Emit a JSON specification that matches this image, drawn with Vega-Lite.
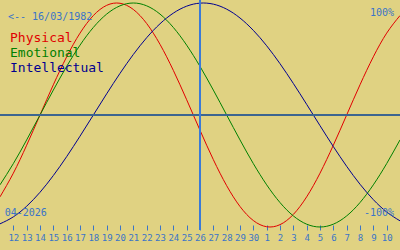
{
  "$schema": "https://vega.github.io/schema/vega-lite/v6.json",
  "width": 400,
  "height": 230,
  "autosize": "none",
  "padding": {"left": 0, "right": 0, "top": 0, "bottom": 20},
  "background": "#e0d282",
  "config": {
    "view": {"stroke": null, "fill": "#e0d282"},
    "axisX": {
      "orient": "bottom", "offset": -5, "title": null, "grid": false, "domain": false,
      "tickSize": 5, "tickColor": "#3a74c8", "tickWidth": 1,
      "labelColor": "#3a74c8", "labelFont": "DejaVu Sans Mono", "labelFontSize": 9,
      "labelPadding": 3, "labelOverlap": false, "labelFlush": false, "labelBound": false
    }
  },
  "datasets": {
    "bio": [
      {"day": 11, "series": "Physical", "value": -73.08}, {"day": 12, "series": "Physical", "value": -51.96}, {"day": 13, "series": "Physical", "value": -26.98}, {"day": 14, "series": "Physical", "value": 0}, {"day": 15, "series": "Physical", "value": 26.98}, {"day": 16, "series": "Physical", "value": 51.96}, {"day": 17, "series": "Physical", "value": 73.08}, {"day": 18, "series": "Physical", "value": 88.79}, {"day": 19, "series": "Physical", "value": 97.91}, {"day": 20, "series": "Physical", "value": 99.77}, {"day": 21, "series": "Physical", "value": 94.23}, {"day": 22, "series": "Physical", "value": 81.70}, {"day": 23, "series": "Physical", "value": 63.11}, {"day": 24, "series": "Physical", "value": 39.84}, {"day": 25, "series": "Physical", "value": 13.62}, {"day": 26, "series": "Physical", "value": -13.62}, {"day": 27, "series": "Physical", "value": -39.84}, {"day": 28, "series": "Physical", "value": -63.11}, {"day": 29, "series": "Physical", "value": -81.70}, {"day": 30, "series": "Physical", "value": -94.23}, {"day": 31, "series": "Physical", "value": -99.77}, {"day": 32, "series": "Physical", "value": -97.91}, {"day": 33, "series": "Physical", "value": -88.79}, {"day": 34, "series": "Physical", "value": -73.08}, {"day": 35, "series": "Physical", "value": -51.96}, {"day": 36, "series": "Physical", "value": -26.98}, {"day": 37, "series": "Physical", "value": 0}, {"day": 38, "series": "Physical", "value": 26.98}, {"day": 39, "series": "Physical", "value": 51.96}, {"day": 40, "series": "Physical", "value": 73.08}, {"day": 41, "series": "Physical", "value": 88.79},
      {"day": 11, "series": "Emotional", "value": -62.35}, {"day": 12, "series": "Emotional", "value": -43.39}, {"day": 13, "series": "Emotional", "value": -22.25}, {"day": 14, "series": "Emotional", "value": 0}, {"day": 15, "series": "Emotional", "value": 22.25}, {"day": 16, "series": "Emotional", "value": 43.39}, {"day": 17, "series": "Emotional", "value": 62.35}, {"day": 18, "series": "Emotional", "value": 78.18}, {"day": 19, "series": "Emotional", "value": 90.10}, {"day": 20, "series": "Emotional", "value": 97.49}, {"day": 21, "series": "Emotional", "value": 100}, {"day": 22, "series": "Emotional", "value": 97.49}, {"day": 23, "series": "Emotional", "value": 90.10}, {"day": 24, "series": "Emotional", "value": 78.18}, {"day": 25, "series": "Emotional", "value": 62.35}, {"day": 26, "series": "Emotional", "value": 43.39}, {"day": 27, "series": "Emotional", "value": 22.25}, {"day": 28, "series": "Emotional", "value": 0}, {"day": 29, "series": "Emotional", "value": -22.25}, {"day": 30, "series": "Emotional", "value": -43.39}, {"day": 31, "series": "Emotional", "value": -62.35}, {"day": 32, "series": "Emotional", "value": -78.18}, {"day": 33, "series": "Emotional", "value": -90.10}, {"day": 34, "series": "Emotional", "value": -97.49}, {"day": 35, "series": "Emotional", "value": -100}, {"day": 36, "series": "Emotional", "value": -97.49}, {"day": 37, "series": "Emotional", "value": -90.10}, {"day": 38, "series": "Emotional", "value": -78.18}, {"day": 39, "series": "Emotional", "value": -62.35}, {"day": 40, "series": "Emotional", "value": -43.39}, {"day": 41, "series": "Emotional", "value": -22.25},
      {"day": 11, "series": "Intellectual", "value": -97.18}, {"day": 12, "series": "Intellectual", "value": -90.96}, {"day": 13, "series": "Intellectual", "value": -81.46}, {"day": 14, "series": "Intellectual", "value": -69.01}, {"day": 15, "series": "Intellectual", "value": -54.06}, {"day": 16, "series": "Intellectual", "value": -37.17}, {"day": 17, "series": "Intellectual", "value": -18.93}, {"day": 18, "series": "Intellectual", "value": 0}, {"day": 19, "series": "Intellectual", "value": 18.93}, {"day": 20, "series": "Intellectual", "value": 37.17}, {"day": 21, "series": "Intellectual", "value": 54.06}, {"day": 22, "series": "Intellectual", "value": 69.01}, {"day": 23, "series": "Intellectual", "value": 81.46}, {"day": 24, "series": "Intellectual", "value": 90.96}, {"day": 25, "series": "Intellectual", "value": 97.18}, {"day": 26, "series": "Intellectual", "value": 99.89}, {"day": 27, "series": "Intellectual", "value": 98.98}, {"day": 28, "series": "Intellectual", "value": 94.50}, {"day": 29, "series": "Intellectual", "value": 86.60}, {"day": 30, "series": "Intellectual", "value": 75.57}, {"day": 31, "series": "Intellectual", "value": 61.82}, {"day": 32, "series": "Intellectual", "value": 45.82}, {"day": 33, "series": "Intellectual", "value": 28.17}, {"day": 34, "series": "Intellectual", "value": 9.51}, {"day": 35, "series": "Intellectual", "value": -9.51}, {"day": 36, "series": "Intellectual", "value": -28.17}, {"day": 37, "series": "Intellectual", "value": -45.82}, {"day": 38, "series": "Intellectual", "value": -61.82}, {"day": 39, "series": "Intellectual", "value": -75.57}, {"day": 40, "series": "Intellectual", "value": -86.60}, {"day": 41, "series": "Intellectual", "value": -94.50}
    ]
  },
  "data": {"name": "bio"},
  "layer": [
    {
      "mark": {"type": "line", "strokeWidth": 1, "interpolate": "natural", "clip": true},
      "encoding": {
        "x": {
          "field": "day", "type": "quantitative",
          "scale": {"domain": [11, 41], "nice": false, "zero": false},
          "axis": {
            "values": [12,13,14,15,16,17,18,19,20,21,22,23,24,25,26,27,28,29,30,31,32,33,34,35,36,37,38,39,40],
            "tickCount": 60,
            "labelOverlap": false,
            "labelExpr": "datum.value > 30 ? datum.value - 30 : datum.value"
          }
        },
        "y": {"field": "value", "type": "quantitative", "scale": {"domain": [-102.68, 102.68], "nice": false, "zero": false}, "axis": null},
        "color": {
          "field": "series", "type": "nominal",
          "scale": {"domain": ["Physical", "Emotional", "Intellectual"], "range": ["#e00000", "#008000", "#000090"]},
          "legend": null
        },
        "detail": {"field": "series"}
      }
    },
    {
      "mark": {"type": "rule", "color": "#3d6690", "strokeWidth": 1.5},
      "encoding": {
        "y": {"datum": 0, "type": "quantitative"}
      }
    },
    {
      "mark": {"type": "rule", "color": "#3a7ad8", "strokeWidth": 1},
      "encoding": {
        "x": {"datum": 26, "type": "quantitative"}
      }
    },
    {
      "data": {"values": [{"label": "<-- 16/03/1982"}]},
      "mark": {"type": "text", "align": "left", "baseline": "alphabetic", "font": "DejaVu Sans Mono", "fontSize": 10, "color": "#3a74c8"},
      "encoding": {"x": {"datum": 11.6}, "y": {"datum": 84.8}, "text": {"field": "label"}}
    },
    {
      "data": {"values": [{"label": "Physical"}]},
      "mark": {"type": "text", "align": "left", "baseline": "alphabetic", "font": "DejaVu Sans Mono", "fontSize": 13, "color": "#e00000"},
      "encoding": {"x": {"datum": 11.75}, "y": {"datum": 65.4}, "text": {"field": "label"}}
    },
    {
      "data": {"values": [{"label": "Emotional"}]},
      "mark": {"type": "text", "align": "left", "baseline": "alphabetic", "font": "DejaVu Sans Mono", "fontSize": 13, "color": "#008000"},
      "encoding": {"x": {"datum": 11.75}, "y": {"datum": 52.0}, "text": {"field": "label"}}
    },
    {
      "data": {"values": [{"label": "Intellectual"}]},
      "mark": {"type": "text", "align": "left", "baseline": "alphabetic", "font": "DejaVu Sans Mono", "fontSize": 13, "color": "#000090"},
      "encoding": {"x": {"datum": 11.75}, "y": {"datum": 38.7}, "text": {"field": "label"}}
    },
    {
      "data": {"values": [{"label": "100%"}]},
      "mark": {"type": "text", "align": "right", "baseline": "alphabetic", "font": "DejaVu Sans Mono", "fontSize": 10, "color": "#3a74c8"},
      "encoding": {"x": {"datum": 40.55}, "y": {"datum": 88.4}, "text": {"field": "label"}}
    },
    {
      "data": {"values": [{"label": "-100%"}]},
      "mark": {"type": "text", "align": "right", "baseline": "alphabetic", "font": "DejaVu Sans Mono", "fontSize": 10, "color": "#3a74c8"},
      "encoding": {"x": {"datum": 40.55}, "y": {"datum": -90.2}, "text": {"field": "label"}}
    },
    {
      "data": {"values": [{"label": "04-2026"}]},
      "mark": {"type": "text", "align": "left", "baseline": "alphabetic", "font": "DejaVu Sans Mono", "fontSize": 10, "color": "#3a74c8"},
      "encoding": {"x": {"datum": 11.35}, "y": {"datum": -90.2}, "text": {"field": "label"}}
    }
  ]
}
